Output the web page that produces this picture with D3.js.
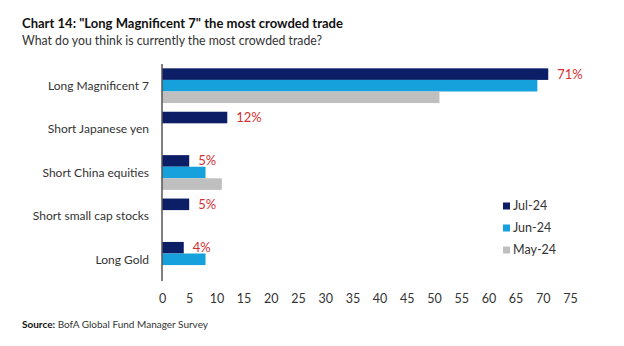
<!DOCTYPE html>
<html>
<head>
<meta charset="utf-8">
<script src="https://cdn.jsdelivr.net/npm/d3@7"></script>
<style>
  body { margin: 0; background: #fff; }
  svg { display: block; font-family: Lato, "Open Sans", sans-serif; }
</style>
</head>
<body>
<div id="chart"></div>
<script>
// chart data
const categories = ['Long Magnificent 7', 'Short Japanese yen', 'Short China equities', 'Short small cap stocks', 'Long Gold'];
const seriesNames = ['Jul-24', 'Jun-24', 'May-24'];
const jul24 = [71, 12, 5, 5, 4];
const jun24 = [69, null, 8, null, 8];
const may24 = [51, null, 11, null, null];
const xTicks = [0, 5, 10, 15, 20, 25, 30, 35, 40, 45, 50, 55, 60, 65, 70, 75];
const colors = ['#0c1f66', '#16a0dc', '#bfbfbf'];

const width = 624, height = 346;
const margin = { top: 64, right: 54, bottom: 65, left: 162 };

const svg = d3.select('#chart')
    .append('svg')
    .attr('width', width)
    .attr('height', height);

// title block
svg.append('text')
    .attr('x', 22)
    .attr('y', 28)
    .attr('font-size', '14px')
    .attr('font-weight', 'bold')
    .attr('fill', '#111')
    .attr('textLength', 321)
    .attr('lengthAdjust', 'spacingAndGlyphs')
    .text('Chart 14: "Long Magnificent 7" the most crowded trade');

svg.append('text')
    .attr('x', 22)
    .attr('y', 45)
    .attr('font-size', '13px')
    .attr('fill', '#333')
    .attr('textLength', 300)
    .attr('lengthAdjust', 'spacingAndGlyphs')
    .text('What do you think is currently the most crowded trade?');

const xScale = d3.scaleLinear()
    .domain([0, 75])
    .range([margin.left, width - margin.right]);

const yScale = d3.scaleBand()
    .domain(categories)
    .range([margin.top, height - margin.bottom])
    .paddingInner(0.2)
    .paddingOuter(0.1);

const subScale = d3.scaleBand()
    .domain(seriesNames)
    .range([0, yScale.bandwidth()]);

const series = [jul24, jun24, may24];

// bars
series.forEach((vals, si) => {
    const rows = categories.map((c, i) => ({ cat: c, value: vals[i] })).filter(d => d.value != null);
    svg.selectAll('.bar-' + si)
        .data(rows)
        .enter()
        .append('rect')
        .attr('class', 'bar-' + si)
        .attr('x', xScale(0))
        .attr('y', d => yScale(d.cat) + subScale(seriesNames[si]))
        .attr('width', d => xScale(d.value) - xScale(0))
        .attr('height', subScale.bandwidth())
        .attr('fill', colors[si]);
});

// value labels on the Jul-24 bars
svg.selectAll('.value-label')
    .data(categories.map((c, i) => ({ cat: c, value: jul24[i] })))
    .enter()
    .append('text')
    .attr('class', 'value-label')
    .attr('x', d => xScale(d.value) + 9)
    .attr('y', d => yScale(d.cat) + subScale('Jul-24') + subScale.bandwidth() / 2)
    .attr('dy', '0.35em')
    .attr('font-size', '13px')
    .attr('fill', '#d32f2f')
    .text(d => d.value + '%');

// y axis line and category labels
svg.append('line')
    .attr('x1', xScale(0))
    .attr('x2', xScale(0))
    .attr('y1', margin.top)
    .attr('y2', height - margin.bottom)
    .attr('stroke', '#555')
    .attr('stroke-width', 1.5);

svg.selectAll('.cat-label')
    .data(categories)
    .enter()
    .append('text')
    .attr('class', 'cat-label')
    .attr('x', 149)
    .attr('y', d => yScale(d) + yScale.bandwidth() / 2)
    .attr('dy', '0.35em')
    .attr('text-anchor', 'end')
    .attr('font-size', '12px')
    .attr('fill', '#333')
    .text(d => d);

// x axis, labels only
const xAxis = svg.append('g')
    .attr('transform', `translate(0, ${height - margin.bottom})`)
    .call(d3.axisBottom(xScale).tickValues(xTicks).tickSize(0).tickPadding(13));
xAxis.select('.domain').remove();
xAxis.selectAll('text')
    .attr('font-size', '12.5px')
    .attr('font-family', 'Lato, sans-serif')
    .attr('fill', '#333');

// legend
const legend = svg.append('g')
    .attr('transform', 'translate(503, 206)');

seriesNames.forEach((name, i) => {
    legend.append('rect')
        .attr('x', 0)
        .attr('y', i * 22 - 3.5)
        .attr('width', 7)
        .attr('height', 7)
        .attr('fill', colors[i]);
    legend.append('text')
        .attr('x', 10)
        .attr('y', i * 22)
        .attr('dy', '0.35em')
        .attr('font-size', '12.5px')
        .attr('fill', '#333')
        .text(name);
});

// source
const source = svg.append('text')
    .attr('x', 22)
    .attr('y', 328)
    .attr('font-size', '10px')
    .attr('fill', '#333');
source.append('tspan').attr('font-weight', 'bold').attr('fill', '#111').text('Source:');
source.append('tspan').text(' BofA Global Fund Manager Survey');
</script>
</body>
</html>
